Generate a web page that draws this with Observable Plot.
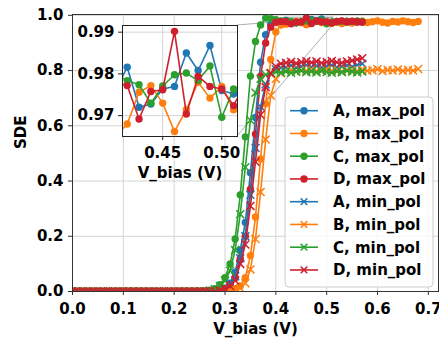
<!DOCTYPE html>
<html><head><meta charset="utf-8">
<script src="https://cdn.jsdelivr.net/npm/d3@7"></script>
<script src="https://cdn.jsdelivr.net/npm/@observablehq/plot@0.6"></script>
<style>
body{margin:0;background:#fff;}
#wrap{position:relative;width:439px;height:338px;overflow:hidden;font-family:"DejaVu Sans",sans-serif;}
#wrap > svg{position:absolute;left:0;top:0;}
</style></head><body><div id="wrap"></div>
<script>
// ---- data ----
const vBias = [0.00,0.01,0.02,0.03,0.04,0.05,0.06,0.07,0.08,0.09,
  0.10,0.11,0.12,0.13,0.14,0.15,0.16,0.17,0.18,0.19,
  0.20,0.21,0.22,0.23,0.24,0.25,0.26,0.27,0.28,0.29,
  0.30,0.31,0.32,0.33,0.34,0.35,0.36,0.37,0.38,0.39,
  0.40,0.41,0.42,0.43,0.44,0.45,0.46,0.47,0.48,0.49,
  0.50,0.51,0.52,0.53,0.54,0.55,0.56,0.57,0.58,0.59,
  0.60,0.61,0.62,0.63,0.64,0.65,0.66,0.67,0.68];

const aMax = [0,0,0,0,0,0,0,0,0,0, 0,0,0,0,0,0,0,0,0,0, 0,0,0,0,0,0,0,0,
  0.002,0.005,0.012,0.03,0.07,0.15,0.25,0.43,0.63,0.83,0.93,0.968,0.978,0.976,
  0.9816,0.972,0.9728,0.9764,0.977,0.985,0.9808,0.9868,0.976,0.9752,
  0.978,0.976,0.979,0.977,0.975,0.978];
const bMax = [0,0,0,0,0,0,0,0,0,0, 0,0,0,0,0,0,0,0,0,0, 0,0,0,0,0,0,0,0,0,0,
  0.002,0.005,0.01,0.02,0.05,0.13,0.27,0.48,0.68,0.84,0.94,0.965,
  0.968,0.9756,0.9772,0.973,0.9662,0.9714,0.978,0.9742,0.977,0.9714,
  0.975,0.97,0.978,0.972,0.976,0.979,0.974,0.977,0.98,0.975,0.972,0.978,0.976,0.98,0.977,0.974,0.978];
const cMax = [0,0,0,0,0,0,0,0,0,0, 0,0,0,0,0,0,0,0,0,0, 0,0,0,0,0,0,
  0.002,0.005,0.01,0.025,0.05,0.10,0.19,0.35,0.56,0.78,0.905,0.965,0.99,0.988,0.984,0.98,
  0.9784,0.9774,0.973,0.9771,0.9798,0.9802,0.9784,0.9819,0.9696,0.9764,
  0.977,0.979,0.976,0.978,0.98,0.977];
const dMax = [0,0,0,0,0,0,0,0,0,0, 0,0,0,0,0,0,0,0,0,0, 0,0,0,0,0,0,0,0,
  0.002,0.005,0.01,0.025,0.05,0.12,0.2,0.37,0.57,0.78,0.9,0.958,0.975,0.978,
  0.9772,0.9692,0.9758,0.9762,0.9902,0.9704,0.9794,0.977,0.9764,0.9724,
  0.978,0.98,0.976,0.979,0.977,0.975];
const aMin = [0,0,0,0,0,0,0,0,0,0, 0,0,0,0,0,0,0,0,0,0, 0,0,0,0,0,0,0,0,0,
  0.004,0.008,0.025,0.055,0.12,0.2,0.35,0.52,0.67,0.75,0.79,0.805,0.81,
  0.812,0.818,0.81,0.815,0.82,0.813,0.817,0.811,0.816,0.819,0.812,0.815,0.818,0.814,0.82,0.825];
const bMin = [0,0,0,0,0,0,0,0,0,0, 0,0,0,0,0,0,0,0,0,0, 0,0,0,0,0,0,0,0,0,0, 0,
  0.003,0.006,0.012,0.03,0.08,0.19,0.36,0.55,0.71,0.77,0.79,
  0.798,0.802,0.797,0.801,0.799,0.803,0.798,0.8,0.804,0.799,0.801,0.797,0.802,0.8,
  0.798,0.803,0.799,0.801,0.805,0.798,0.802,0.8,0.804,0.799,0.802,0.8,0.806];
const cMin = [0,0,0,0,0,0,0,0,0,0, 0,0,0,0,0,0,0,0,0,0, 0,0,0,0,0,0,0,
  0.004,0.008,0.02,0.04,0.075,0.15,0.28,0.45,0.62,0.72,0.77,0.785,0.79,0.795,0.793,
  0.797,0.792,0.796,0.799,0.794,0.797,0.793,0.798,0.795,0.792,0.797,0.794,0.799,0.796,0.793,0.797];
const dMin = [0,0,0,0,0,0,0,0,0,0, 0,0,0,0,0,0,0,0,0,0, 0,0,0,0,0,0,0,0,0,
  0.004,0.008,0.02,0.04,0.1,0.17,0.31,0.47,0.64,0.74,0.79,0.815,0.825,
  0.828,0.832,0.826,0.83,0.834,0.829,0.833,0.827,0.831,0.835,0.83,0.828,0.833,0.836,0.84,0.845];

const seriesNames = ["A, max_pol","B, max_pol","C, max_pol","D, max_pol","A, min_pol","B, min_pol","C, min_pol","D, min_pol"];
const seriesValues = [aMax,bMax,cMax,dMax,aMin,bMin,cMin,dMin];
const seriesColors = ["#1f77b4","#ff7f0e","#2ca02c","#cf1f2e","#1f77b4","#ff7f0e","#2ca02c","#cf1f2e"];
const seriesSymbols = ["circle","circle","circle","circle","times","times","times","times"];

const xTicks = [0.0,0.1,0.2,0.3,0.4,0.5,0.6,0.7];
const yTicks = [0.0,0.2,0.4,0.6,0.8,1.0];
const insetXTicks = [0.45,0.50];
const insetYTicks = [0.97,0.98,0.99];
const insetXDomain = [0.416,0.5133];
const insetYDomain = [0.965,0.9916];
const xLabel = "V_bias (V)";
const yLabel = "SDE";

// ---- build ----
const FONT = "DejaVu Sans";
const GRID = "#d4d4d4";
const rowsOf = vals => vals.map((y,i)=>({x:vBias[i], y}));

function seriesMarks(clip){
  const m = [];
  seriesValues.forEach((vals,k)=>{
    const d = rowsOf(vals);
    m.push(Plot.line(d,{x:"x",y:"y",stroke:seriesColors[k],strokeWidth:1.6,clip}));
    if (seriesSymbols[k]==="circle")
      m.push(Plot.dot(d,{x:"x",y:"y",r:3.7,fill:seriesColors[k],stroke:"none",clip}));
    else
      m.push(Plot.dot(d,{x:"x",y:"y",symbol:"times",r:3.7,stroke:seriesColors[k],strokeWidth:1.5,clip}));
  });
  return m;
}

const W = 439, H = 338;
const main = Plot.plot({
  width:W, height:H,
  marginLeft:72, marginRight:1, marginTop:14, marginBottom:47,
  style:{background:"white", fontFamily:FONT, fontSize:"15px", fontWeight:"bold", color:"#000", overflow:"visible"},
  x:{domain:[0,0.72]},
  y:{domain:[0,1.003]},
  marks:[
    Plot.gridX(xTicks,{stroke:GRID,strokeOpacity:1}),
    Plot.gridY(yTicks,{stroke:GRID,strokeOpacity:1}),
    Plot.rect([0],{x1:()=>insetXDomain[0],x2:()=>insetXDomain[1],y1:()=>insetYDomain[0],y2:()=>insetYDomain[1],fill:"none",stroke:"#888",strokeWidth:0.8}),
    ...seriesMarks(true),
    Plot.frame({stroke:"#333",strokeWidth:1}),
    Plot.axisX(xTicks,{tickSize:4,tickPadding:8,tickFormat:d3.format(".1f"),label:null,stroke:"#333",fontSize:15,fontWeight:"bold"}),
    Plot.axisY(yTicks,{tickSize:4,tickPadding:5,tickFormat:d3.format(".1f"),label:null,stroke:"#333",fontSize:15,fontWeight:"bold"}),
    Plot.text([xLabel],{frameAnchor:"bottom",dy:38,lineAnchor:"middle",fontSize:15,fontWeight:"bold",fill:"#000"}),
    Plot.text([yLabel],{frameAnchor:"left",dx:-51,dy:-4,rotate:-90,lineAnchor:"middle",fontSize:15,fontWeight:"bold",fill:"#000"})
  ]
});

const inset = Plot.plot({
  width:W, height:H,
  marginLeft:122, marginRight:W-237, marginTop:25, marginBottom:H-136,
  style:{background:"transparent", fontFamily:FONT, fontSize:"15px", fontWeight:"bold", color:"#000", overflow:"visible"},
  x:{domain:insetXDomain},
  y:{domain:insetYDomain},
  marks:[
    Plot.frame({fill:"white",stroke:"none"}),
    Plot.gridX(insetXTicks,{stroke:GRID,strokeOpacity:1}),
    Plot.gridY(insetYTicks,{stroke:GRID,strokeOpacity:1}),
    ...seriesMarks(true),
    Plot.frame({stroke:"#222",strokeWidth:1}),
    Plot.axisX(insetXTicks,{tickSize:4,tickPadding:7,tickFormat:d3.format(".2f"),label:null,stroke:"#222",fontSize:15,fontWeight:"bold"}),
    Plot.axisY(insetYTicks,{tickSize:4,tickPadding:4,tickFormat:d3.format(".2f"),label:null,stroke:"#222",fontSize:15,fontWeight:"bold"}),
    Plot.text([xLabel],{frameAnchor:"bottom",dy:36.5,lineAnchor:"middle",fontSize:15,fontWeight:"bold",fill:"#000"})
  ]
});

const wrap = document.getElementById("wrap");
wrap.appendChild(main);
wrap.appendChild(inset);

// connector lines (mark_inset style) drawn beneath the data in the main chart
{
  const mx = main.scale("x"), my = main.scale("y");
  const ix = inset.scale("x"), iy = inset.scale("y");
  const conns = [
    [ix.apply(insetXDomain[1]), iy.apply(insetYDomain[1]), mx.apply(insetXDomain[1]), my.apply(insetYDomain[1])],
    [ix.apply(insetXDomain[1]), iy.apply(insetYDomain[0]), mx.apply(insetXDomain[1]), my.apply(insetYDomain[0])]
  ];
  const svg = d3.select(main);
  const g = svg.insert("g", "g[aria-label='line']");
  conns.forEach(c=>g.append("line").attr("x1",c[0]).attr("y1",c[1]).attr("x2",c[2]).attr("y2",c[3])
    .attr("stroke","#999").attr("stroke-width",0.8));
}

// legend
{
  const lg = d3.select(wrap).append("svg").attr("width",W).attr("height",H)
    .style("font-family",FONT).style("font-weight","bold").style("font-size","15px");
  lg.append("rect").attr("x",285).attr("y",97).attr("width",148).attr("height",190).attr("rx",4)
    .attr("fill","white").attr("fill-opacity",0.8).attr("stroke","#cccccc").attr("stroke-width",1);
  seriesNames.forEach((name,k)=>{
    const y = 110.7 + k*22.75;
    lg.append("line").attr("x1",290).attr("x2",318).attr("y1",y).attr("y2",y)
      .attr("stroke",seriesColors[k]).attr("stroke-width",1.6);
    if (seriesSymbols[k]==="circle")
      lg.append("circle").attr("cx",304).attr("cy",y).attr("r",3.7).attr("fill",seriesColors[k]);
    else
      lg.append("path").attr("transform",`translate(304,${y})`)
        .attr("d","M-3.3,-3.3L3.3,3.3M-3.3,3.3L3.3,-3.3").attr("stroke",seriesColors[k]).attr("stroke-width",1.5);
    lg.append("text").attr("x",333).attr("y",y).attr("dy","0.36em").attr("fill","#000").text(name);
  });
}
</script></body></html>
